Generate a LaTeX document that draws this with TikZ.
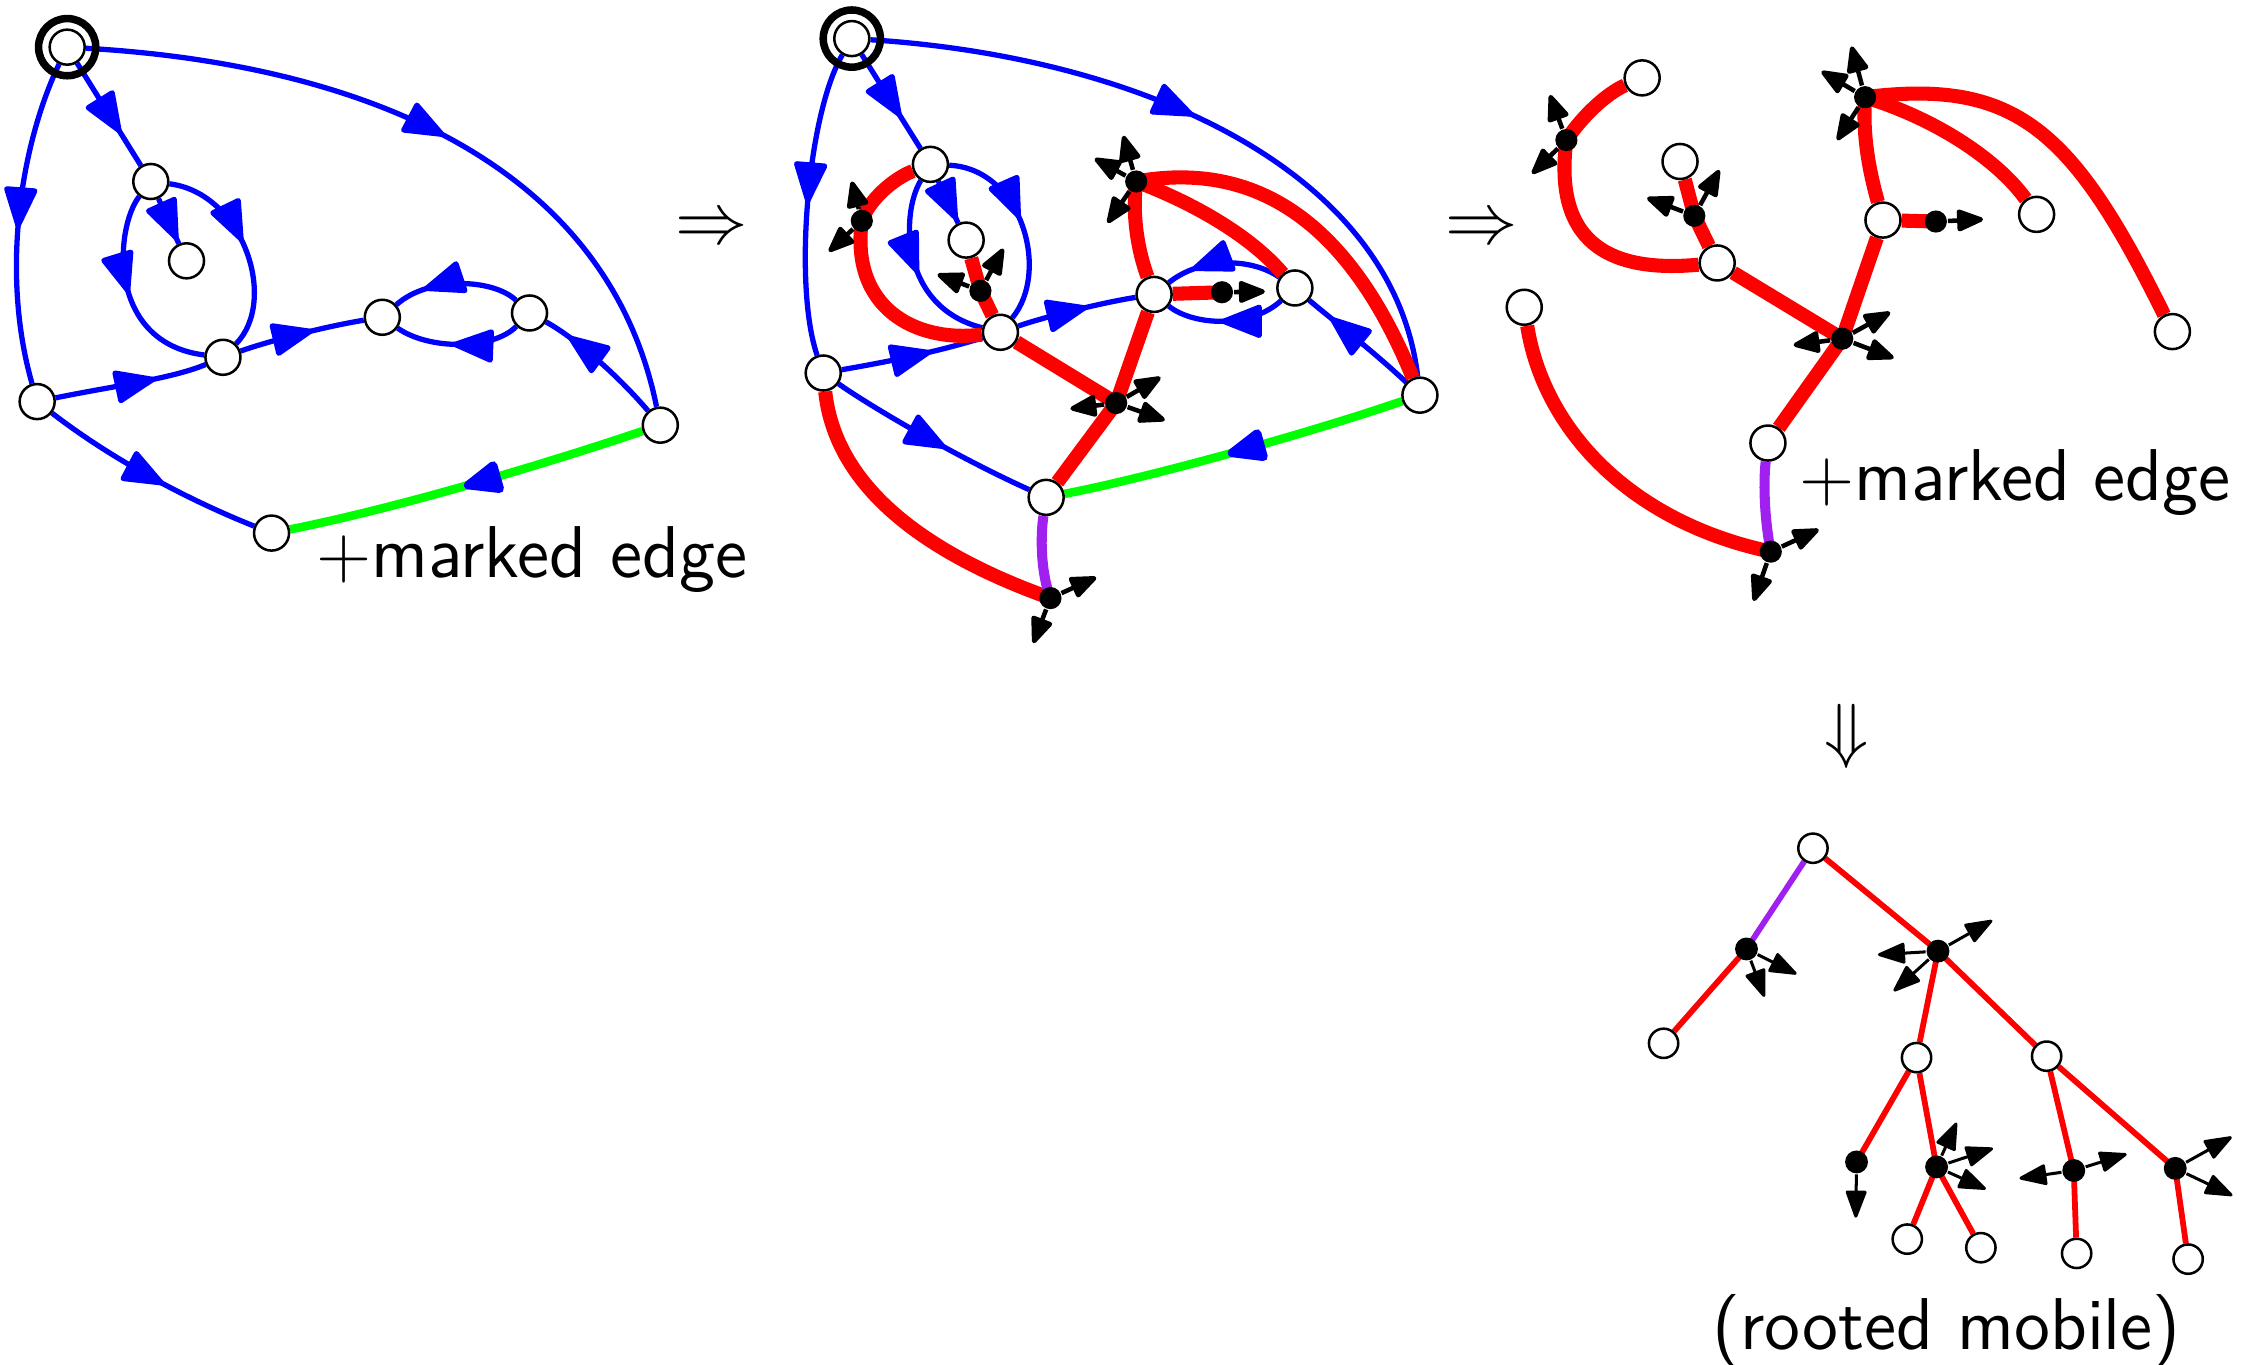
\documentclass[tikz,border=0pt]{standalone}
\usepackage{amsmath,amssymb}
\usetikzlibrary{arrows.meta,decorations.markings}
\definecolor{bl}{RGB}{0,0,255}
\definecolor{rd}{RGB}{255,0,0}
\definecolor{gr}{RGB}{0,255,0}
\definecolor{purp}{RGB}{160,32,240}
\pgfdeclarelayer{edges}
\pgfsetlayers{edges,main}
\tikzset{
  vert/.style={circle,draw,fill=white,line width=0.5pt,minimum size=0.245cm,inner sep=0pt},
  blk/.style={circle,fill=black,minimum size=0.155cm,inner sep=0pt},
  tvert/.style={vert,minimum size=0.205cm},
  tblk/.style={blk,minimum size=0.16cm},
  ring/.style={draw,line width=1.5pt},
  blue edge/.style={draw=bl,line width=1.05pt,postaction={decorate},
    decoration={markings,mark=at position #1 with {\arrow{Triangle[length=3.2mm,width=2.4mm,round,color=bl]}}}},
  blue edge/.default=0.55,
  green edge/.style={draw=gr,line width=1.7pt,postaction={decorate},
    decoration={markings,mark=at position #1 with {\arrow{Triangle[length=3.2mm,width=2.4mm,round,color=bl]}}}},
  green edge/.default=0.5,
  red edge/.style={draw=rd,line width=2.8pt},
  root edge/.style={draw=purp,line width=2pt},
  stub/.style={draw=black,line width=0.9pt,-{Triangle[length=2.1mm,width=1.6mm,round]}},
  tree edge/.style={draw=rd,line width=1.15pt},
  tree root/.style={draw=purp,line width=1.15pt},
  tree stub/.style={draw=black,line width=0.6pt,-{Triangle[length=2.1mm,width=1.5mm,round]}},
  lbl/.style={font=\fontsize{14.6}{17}\selectfont\sffamily,inner sep=0pt}
}
\begin{document}
\begin{tikzpicture}[x=0.01cm,y=-0.01cm]
\useasboundingbox (0,0) rectangle (1568,955);

% first map
\node[vert] (r) at (47,33) {};
\node[vert] (a) at (105.5,127) {};
\node[vert] (b) at (130.5,182.5) {};
\node[vert] (c) at (156,250) {};
\node[vert] (d) at (267.5,222) {};
\node[vert] (e) at (370.5,219) {};
\node[vert] (f) at (26,281) {};
\node[vert] (g) at (462,297.5) {};
\node[vert] (h) at (190,373) {};
\draw[ring] (r) circle (0.2cm);
\begin{pgfonlayer}{edges}
  \draw[blue edge=0.68] (r) -- (a);
  \draw[blue edge=0.52] (r) .. controls (15,100) and (0,190) .. (f);
  \draw[blue edge=0.51] (r) .. controls (255,45) and (425,115) .. (g);
  \draw[blue edge=0.92] (a) -- (b);
  \draw[blue edge=0.49] (a) .. controls (80,160) and (75,240) .. (c);
  \draw[blue edge=0.47] (a) .. controls (170,135) and (195,210) .. (c);
  \draw[blue edge=0.66] (f) .. controls (80,270) and (120,265) .. (c);
  \draw[blue edge=0.59] (c) .. controls (190,238) and (230,228) .. (d);
  \draw[blue edge=0.75] (e) .. controls (345,195) and (300,193) .. (d);
  \draw[blue edge=0.54] (e) .. controls (345,245) and (300,245) .. (d);
  \draw[blue edge=0.8] (g) .. controls (430,260) and (400,235) .. (e);
  \draw[blue edge=0.57] (f) .. controls (70,315) and (120,345) .. (h);
  \draw[green edge=0.51] (g) .. controls (380,325) and (280,355) .. (h);
\end{pgfonlayer}
\node[lbl,anchor=base] (mk1) at (372,404) {$+$marked edge};
\node[lbl] (imp1) at (498,161) {$\Rightarrow$};

% map with the mobile drawn on it
\node[vert] (R) at (596,27) {};
\node[vert] (A) at (651,115) {};
\node[vert] (B) at (676,168) {};
\node[vert] (C) at (700,232.5) {};
\node[vert] (D) at (807.5,206) {};
\node[vert] (E) at (906,201.5) {};
\node[vert] (F) at (576,261) {};
\node[vert] (G) at (993.5,276.5) {};
\node[vert] (M) at (732,348) {};
\node[blk] (k1) at (603,154.5) {};
\node[blk] (k2) at (686,203.5) {};
\node[blk] (k3) at (795,127) {};
\node[blk] (k4) at (855,204.5) {};
\node[blk] (k5) at (781,282) {};
\node[blk] (k6) at (735,418.5) {};
\draw[ring] (R) circle (0.2cm);
\begin{pgfonlayer}{edges}
  \draw[blue edge=0.66] (R) -- (A);
  \draw[blue edge=0.5] (R) .. controls (565,80) and (555,200) .. (F);
  \draw[blue edge=0.48] (R) .. controls (800,40) and (975,120) .. (G);
  \draw[blue edge=0.92] (A) -- (B);
  \draw[blue edge=0.52] (A) .. controls (630,150) and (630,215) .. (C);
  \draw[blue edge=0.47] (A) .. controls (715,118) and (735,190) .. (C);
  \draw[blue edge=0.63] (F) .. controls (610,255) and (650,248) .. (C);
  \draw[blue edge=0.59] (C) .. controls (730,222) and (770,212) .. (D);
  \draw[blue edge=0.77] (E) .. controls (875,180) and (840,180) .. (D);
  \draw[blue edge=0.54] (E) .. controls (875,230) and (835,228) .. (D);
  \draw[blue edge=0.78] (G) .. controls (960,245) and (930,222) .. (E);
  \draw[blue edge=0.57] (F) .. controls (610,285) and (670,320) .. (M);
  \draw[green edge=0.52] (G) .. controls (910,305) and (800,335) .. (M);
  \draw[red edge] (A) .. controls (625,125) and (608,140) .. (k1.center);
  \draw[red edge] (k1.center) .. controls (595,215) and (640,240) .. (C);
  \draw[red edge] (B) -- (k2.center) -- (C);
  \draw[red edge] (C) -- (k5.center) -- (M);
  \draw[red edge] (D) -- (k5.center);
  \draw[red edge] (D) .. controls (796,175) and (792,150) .. (k3.center);
  \draw[red edge] (k3.center) .. controls (890,110) and (950,170) .. (G);
  \draw[red edge] (k3.center) .. controls (835,142) and (875,165) .. (E);
  \draw[red edge] (D) -- (k4.center);
  \draw[red edge] (F) .. controls (585,345) and (655,390) .. (k6.center);
  \draw[root edge] (M) .. controls (728,375) and (728,400) .. (k6.center);
\end{pgfonlayer}
\foreach \s/\x/\y [count=\i] in {k1/596/127, k1/580/176, k2/656/192, k2/702/174,
    k3/786/95, k3/766/111, k3/775/156, k4/885/204, k5/749/286, k5/812/264,
    k5/815/294, k6/767/404, k6/723/450}
  {\coordinate (u\i) at (\x,\y); \draw[stub] (\s) -- (u\i);}
\node[lbl] (imp2) at (1037,161) {$\Rightarrow$};

% mobile cut out of the map
\node[vert] (q1) at (1149,54.5) {};
\node[vert] (q2) at (1175.5,113) {};
\node[vert] (q3) at (1201.5,184) {};
\node[vert] (q4) at (1066.5,215) {};
\node[vert] (q5) at (1317.5,154) {};
\node[vert] (q6) at (1425,150) {};
\node[vert] (q7) at (1520,232) {};
\node[vert] (q8) at (1237,310) {};
\node[blk] (m1) at (1096,98) {};
\node[blk] (m2) at (1185.5,151) {};
\node[blk] (m3) at (1305,68) {};
\node[blk] (m4) at (1354.5,155) {};
\node[blk] (m5) at (1289,237) {};
\node[blk] (m6) at (1239,386) {};
\begin{pgfonlayer}{edges}
  \draw[red edge] (q1) .. controls (1125,65) and (1108,80) .. (m1.center);
  \draw[red edge] (m1.center) .. controls (1088,160) and (1115,192) .. (q3);
  \draw[red edge] (q2) -- (m2.center) -- (q3);
  \draw[red edge] (q3) -- (m5.center) -- (q8);
  \draw[red edge] (q5) -- (m5.center);
  \draw[red edge] (m3.center) .. controls (1303,95) and (1308,120) .. (q5);
  \draw[red edge] (m3.center) .. controls (1360,85) and (1400,115) .. (q6);
  \draw[red edge] (m3.center) .. controls (1410,55) and (1450,90) .. (q7);
  \draw[red edge] (q5) -- (m4.center);
  \draw[red edge] (q4) .. controls (1080,300) and (1140,365) .. (m6.center);
  \draw[root edge] (q8) .. controls (1234,335) and (1234,360) .. (m6.center);
\end{pgfonlayer}
\foreach \s/\x/\y [count=\i] in {m1/1084.5/66.5, m1/1072/121.5, m2/1152.5/138.5, m2/1203/119,
    m3/1295.5/32.5, m3/1274.5/50, m3/1285.5/98, m4/1387.5/153.5, m5/1255/241.5,
    m5/1322.5/218.5, m5/1325/250.5, m6/1272.5/370.5, m6/1227/420.5}
  {\coordinate (v\i) at (\x,\y); \draw[stub] (\s) -- (v\i);}
\node[lbl,anchor=base] (mk2) at (1410,350) {$+$marked edge};
\node[lbl] (imp3) at (1292,515) {$\Downarrow$};

% rooted mobile
\node[tvert] (t0) at (1268.5,593.5) {};
\node[tblk] (t1) at (1222,664) {};
\node[tvert] (t2) at (1164,730) {};
\node[tblk] (t3) at (1356,665.5) {};
\node[tvert] (t4) at (1341,740) {};
\node[tvert] (t5) at (1432,739) {};
\node[tblk] (t6) at (1299,813) {};
\node[tblk] (t7) at (1355,816.5) {};
\node[tvert] (t8) at (1334.5,867) {};
\node[tvert] (t9) at (1386,873) {};
\node[tblk] (t10) at (1451,819) {};
\node[tvert] (t11) at (1453,877) {};
\node[tblk] (t12) at (1522,817.5) {};
\node[tvert] (t13) at (1531,881) {};
\begin{pgfonlayer}{edges}
  \draw[tree root] (t0) -- (t1.center);
  \draw[tree edge] (t1.center) -- (t2);
  \draw[tree edge] (t0) -- (t3.center) -- (t4);
  \draw[tree edge] (t3.center) -- (t5);
  \draw[tree edge] (t4) -- (t6.center);
  \draw[tree edge] (t4) -- (t7.center) -- (t8);
  \draw[tree edge] (t7.center) -- (t9);
  \draw[tree edge] (t5) -- (t10.center) -- (t11);
  \draw[tree edge] (t5) -- (t12.center) -- (t13);
\end{pgfonlayer}
\foreach \s/\x/\y [count=\i] in {t1/1257/681.5, t1/1234.5/697.5, t3/1314/668, t3/1394/644,
    t3/1325/693.5, t6/1298.5/852, t7/1369/785.5, t7/1394.5/803.5, t7/1389.5/832,
    t10/1413/824.5, t10/1488/807.5, t12/1561.5/795.5, t12/1562/836.5}
  {\coordinate (w\i) at (\x,\y); \draw[tree stub] (\s) -- (w\i);}
\node[lbl,anchor=base] (cap) at (1362,944) {(rooted mobile)};
\end{tikzpicture}
\end{document}
